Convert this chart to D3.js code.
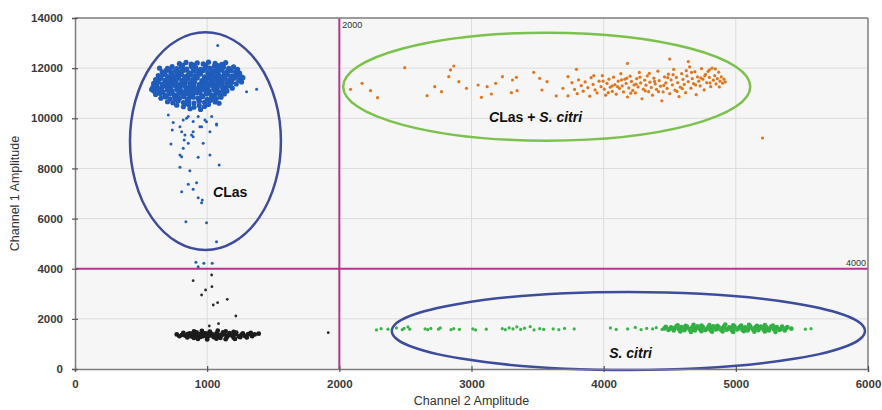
<!DOCTYPE html>
<html>
<head>
<meta charset="utf-8">
<script src="https://cdn.jsdelivr.net/npm/d3@7/dist/d3.min.js"></script>
<style>
  body { margin: 0; background: #ffffff; }
  svg text { font-family: "Liberation Sans", Arial, sans-serif; }
</style>
</head>
<body>
<svg id="chart" width="882" height="410"></svg>
<script>
// ---- Axis ticks ----
const xTickValues = [0, 1000, 2000, 3000, 4000, 5000, 6000];
const yTickValues = [0, 2000, 4000, 6000, 8000, 10000, 12000, 14000];
const xTitle = "Channel 2 Amplitude";
const yTitle = "Channel 1 Amplitude";

// ---- Thresholds (Channel 2, Channel 1) ----
const thresholdCh2 = [2000];
const thresholdCh1 = [4000];

// ---- Droplets: Channel 2 amplitude, Channel 1 amplitude ----
// CLas-positive droplets, main cluster
const clasCluster = [
  [790,12180],[840,12230],[880,12160],[925,12210],[970,12170],[1010,12240],[1060,12190],[1110,12150],[1140,12220],
  [700,11990],[735,12060],[770,11980],[805,12040],[845,11960],[880,12070],[915,12010],[950,11950],[985,12060],[1020,12000],[1055,12080],[1090,11970],[1125,12040],[1165,11990],[1200,12050],
  [660,11850],[690,11910],[725,11820],[760,11890],[795,11840],[830,11920],[865,11810],[900,11880],[935,11840],[970,11910],[1005,11820],[1040,11890],[1075,11850],[1110,11920],[1145,11830],[1180,11900],[1215,11860],[1245,11800],
  [630,11700],[665,11740],[700,11660],[735,11720],[770,11680],[805,11750],[840,11670],[875,11730],[910,11690],[945,11760],[980,11650],[1015,11720],[1050,11680],[1085,11750],[1120,11670],[1155,11730],[1190,11690],[1225,11750],[1255,11660],
  [610,11540],[645,11590],[680,11510],[715,11570],[750,11530],[785,11600],[820,11520],[855,11580],[890,11540],[925,11610],[960,11500],[995,11570],[1030,11530],[1065,11600],[1100,11510],[1135,11570],[1170,11540],[1205,11600],[1240,11520],
  [595,11390],[625,11440],[660,11360],[695,11420],[730,11380],[765,11450],[800,11370],[835,11430],[870,11390],[905,11460],[940,11350],[975,11420],[1010,11380],[1045,11450],[1080,11360],[1115,11420],[1150,11390],[1185,11440],[1220,11370],
  [590,11240],[620,11290],[655,11210],[690,11270],[725,11230],[760,11300],[795,11220],[830,11280],[865,11240],[900,11310],[935,11200],[970,11270],[1005,11230],[1040,11300],[1075,11210],[1110,11270],[1145,11240],[1175,11300],
  [595,11090],[630,11140],[665,11060],[700,11120],[735,11080],[770,11150],[805,11070],[840,11130],[875,11090],[910,11160],[945,11050],[980,11120],[1015,11080],[1050,11150],[1085,11060],[1120,11120],[1150,11090],
  [610,10950],[645,10990],[680,10910],[715,10970],[750,10930],[785,11000],[820,10920],[855,10980],[890,10940],[925,11010],[960,10900],[995,10970],[1030,10930],[1065,10990],[1100,10920],[1130,10970],
  [650,10800],[685,10850],[720,10770],[755,10830],[790,10790],[825,10860],[860,10780],[895,10840],[930,10800],[965,10860],[1000,10760],[1035,10820],[1070,10790],[1105,10840],
  [700,10660],[740,10620],[780,10690],[820,10630],[860,10680],[900,10610],[940,10670],[980,10640],[1020,10700],[1060,10650],
  [770,10520],[820,10460],[860,10540],[900,10440],[940,10510],[980,10470],[1010,10550],
  [640,12000],[1230,11950],[1270,11620],[1260,11450],[580,11150],[610,11330],[1190,11200],[870,10380],[950,10350],[1090,10600],
  [815,12110],[900,12120],[990,12110],[1080,12100],[720,11930],[810,11900],[895,11950],[985,11980],[1070,11930],[1160,11920],
  [680,11790],[770,11770],[860,11760],[950,11800],[1040,11780],[1130,11790],[1220,11700],[650,11620],[740,11640],[830,11610],
  [920,11650],[1010,11640],[1100,11620],[1190,11610],[630,11470],[720,11460],[810,11490],[900,11480],[990,11470],[1080,11490],
  [1170,11470],[605,11320],[700,11330],[790,11310],[880,11330],[970,11320],[1060,11330],[1150,11320],[610,11170],[700,11190],
  [790,11180],[880,11170],[970,11190],[1060,11180],[640,11020],[730,11030],[820,11020],[910,11040],[1000,11030],[1090,11010],
  [690,10880],[780,10890],[870,10900],[960,10880],[1050,10890],[760,10730],[850,10740],[940,10720],[1030,10740],[840,10590]
];
// CLas-positive droplets trailing below the cluster
const clasTail = [
  [1080,12900],[1298,11060],[1374,11160],
  [706,10130],[819,9930],[857,10070],[894,9870],[932,10070],[983,9930],[1034,10070],[1071,9770],
  [743,9830],[736,9530],[726,8975],[794,9665],[807,9467],[832,9333],[826,9134],[894,9467],[894,9267],[844,10000],
  [945,9665],[970,9003],[995,9866],[1021,9467],[1071,9733],[882,9333],[958,9665],
  [819,8803],[857,9003],[794,8536],[807,8470],[932,8443],[1021,8536],[794,8046],[869,7911],[1091,8137],
  [920,7431],[857,7367],[894,7168],[807,7072],[932,6833],[963,6741],[958,6633],[839,5876],[995,5836],[1071,5077],
  [915,4256],[975,4216],[1038,4216],[932,4082]
];
// Double-positive droplets (CLas + S. citri)
const bothPoints = [
  [2085,11157],[2172,11396],[2236,11101],[2289,10822],[2495,12018],[2664,10902],[2722,11261],[2773,11061],[2828,11660],[2841,11927],
  [2866,12086],[2904,11460],[2962,11196],[3050,11328],[3075,10837],[3118,11261],[3150,10969],[3183,11396],[3234,11660],[3310,11528],
  [3302,11022],[3345,11101],[3340,11633],[3471,11835],[3516,11595],[3533,11129],[3571,11460],[3641,10890],[3692,11196],[3730,11660],
  [3730,10890],[3794,11954],[5202,9214],
  [3760,11420],[3780,11150],[3800,10980],[3810,11530],[3830,11300],[3845,11080],[3860,11450],[3880,11220],[3895,10880],[3905,11620],
  [3920,11350],[3935,11130],[3950,11010],[3965,11480],[3980,11260],[3990,11700],[4005,11160],[4015,10920],[4025,11390],[4040,11560],
  [4050,11240],[4065,11070],[4075,11640],[4085,11340],[4095,10960],[4110,11480],[4120,11190],[4130,11780],[4140,11290],[4150,11050],
  [4160,11560],[4170,11390],[4180,10850],[4190,11210],[4200,11680],[4210,11470],[4220,11110],[4230,11330],[4240,11010],[4250,11580],
  [4260,11250],[4270,11830],[4280,11410],[4290,10780],[4300,11160],[4310,11520],[4320,11320],[4330,11690],[4340,11060],[4350,11440],
  [4360,11230],[4370,10920],[4380,11600],[4390,11370],[4400,11150],[4410,11880],[4420,11500],[4430,11280],[4440,10700],[4450,11050],
  [4460,11650],[4470,11410],[4480,11190],[4490,11760],[4500,10980],[4510,11530],[4520,11330],[4530,11950],[4540,11120],[4550,11630],
  [4560,11420],[4570,10860],[4580,11240],[4590,11780],[4600,11550],[4610,11350],[4620,11020],[4630,11690],[4640,11460],[4650,12050],
  [4660,11200],[4670,11580],[4680,11380],[4690,11860],[4700,10940],[4710,11650],[4720,11480],[4730,11290],[4740,11980],[4750,11560],
  [4760,11130],[4770,11750],[4780,11420],[4790,11870],[4800,11630],[4810,11260],[4820,12000],[4830,11520],[4840,11700],[4850,11370],
  [4860,11580],[4870,11840],[4880,11480],[4890,11650],[4900,11400],[4910,11560],[4920,11450],
  [4035,11020],[4105,11260],[4175,11600],[4245,11360],[4315,11090],[4385,11470],[4455,11310],[4525,11740],[4595,11180],[4665,11830],
  [4735,11610],[4805,11410],[4875,11250],[3925,11700],[3995,11480],[4065,11290],[4135,11530],[4205,11000],[4275,11640],[4345,11790],
  [4415,11060],[4485,11620],[4555,11070],[4625,11900],[4695,11330],[4765,11690],[4845,11970],
  [4180,12190],[4500,12360],[4640,12260],[4800,11930]
];
// S. citri-positive droplets, scattered part
const citriScatter = [
  [2281,1560],[2316,1610],[2368,1590],[2432,1640],[2476,1570],[2490,1620],[2519,1680],[2533,1590],[2649,1600],[2669,1570],
  [2692,1620],[2750,1590],[2764,1640],[2845,1570],[2866,1610],[2909,1580],[3010,1600],[3031,1560],[3112,1590],[3233,1610],
  [3256,1570],[3285,1640],[3314,1600],[3343,1680],[3372,1580],[3401,1630],[3444,1690],[3473,1560],[3516,1610],[3546,1580],
  [3618,1600],[3661,1570],[3704,1620],[3777,1600],[4051,1640],[4095,1580],[4181,1600],[4239,1660],[4283,1570],[4326,1620],
  [4370,1600],[4398,1650],[4442,1580],[5526,1590],[5569,1610]
];
// S. citri-positive droplets, main band
const citriCluster = [
  [4560,1740],[4620,1720],[4680,1760],[4740,1730],[4800,1750],[4860,1720],[4920,1770],[4980,1740],[5040,1730],[5100,1760],[5160,1720],[5220,1750],[5280,1730],
  [4470,1680],[4510,1660],[4550,1700],[4590,1670],[4630,1690],[4670,1660],[4710,1700],[4750,1680],[4790,1660],[4830,1700],[4870,1670],[4910,1690],
  [4950,1660],[4990,1700],[5030,1680],[5070,1660],[5110,1700],[5150,1670],[5190,1690],[5230,1660],[5270,1700],[5310,1670],[5350,1690],[5390,1670],
  [4460,1620],[4500,1600],[4540,1640],[4580,1610],[4620,1630],[4660,1600],[4700,1640],[4740,1620],[4780,1600],[4820,1640],[4860,1610],[4900,1630],
  [4940,1600],[4980,1640],[5020,1620],[5060,1600],[5100,1640],[5140,1610],[5180,1630],[5220,1600],[5260,1640],[5300,1620],[5340,1600],[5380,1630],[5420,1610],
  [4490,1560],[4530,1540],[4570,1580],[4610,1550],[4650,1570],[4690,1540],[4730,1580],[4770,1560],[4810,1540],[4850,1580],[4890,1550],[4930,1570],
  [4970,1540],[5010,1580],[5050,1560],[5090,1540],[5130,1580],[5170,1550],[5210,1570],[5250,1540],[5290,1580],[5330,1560],[5370,1540],
  [4580,1500],[4660,1480],[4740,1510],[4820,1490],[4900,1500],[4980,1480],[5060,1510],[5140,1490],[5220,1500],[5300,1480]
];
// Negative droplets, main cluster
const negativeCluster = [
  [900,1500],[960,1520],[1020,1490],[1080,1530],[1140,1500],[1200,1480],
  [820,1440],[870,1420],[920,1460],[970,1430],[1020,1450],[1070,1420],[1120,1460],[1170,1430],[1220,1450],[1270,1420],[1330,1440],
  [770,1380],[810,1360],[855,1400],[900,1370],[945,1390],[990,1360],[1035,1400],[1080,1370],[1125,1390],[1170,1360],[1215,1400],[1260,1370],[1310,1390],[1360,1380],[1390,1410],
  [790,1310],[835,1330],[880,1300],[925,1340],[970,1310],[1015,1330],[1060,1300],[1105,1340],[1150,1310],[1195,1330],[1240,1300],[1285,1320],[1340,1310],
  [850,1260],[900,1240],[950,1280],[1000,1250],[1050,1270],[1100,1240],[1150,1280],[1200,1250],[1250,1270],[1300,1260],
  [930,1200],[1000,1180],[1070,1210],[1140,1190],[1210,1200],
  [960,1340],[1040,1350],[1110,1360],[990,1420],[1060,1330],[1130,1410],[1000,1300],[1180,1350],[930,1380],[1090,1280]
];
// Negative droplets outside the cluster
const negativeScatter = [
  [1034,3750],[894,3522],[1036,3283],[988,3151],[958,2952],[1152,2780],[1079,2645],[1046,2553],[1217,2114],[1016,1715],[1086,1807],[1916,1448]
];

// ---- Cluster gates: centre and half-widths in amplitude units ----
const gateNames = ["clas", "both", "citri"];
const gateCx = [987, 3569, 4187];
const gateCy = [9087, 11261, 1516];
const gateRx = [571, 1540, 1790];
const gateRy = [4340, 2154, 1556];

// ---- Cluster labels, anchored at left baseline ----
const labelX = [1045, 3133, 4042];
const labelY = [6870, 9864, 419];

// ---------------------------------------------------------------
const W = 882, H = 410;
const margin = { left: 75, right: 14, top: 18, bottom: 41 };
const x = d3.scaleLinear().domain([0, 6000]).range([margin.left, W - margin.right]);
const y = d3.scaleLinear().domain([0, 14000]).range([H - margin.bottom, margin.top]);

const svg = d3.select("#chart");

// plot background
svg.append("rect")
  .attr("x", x(0)).attr("y", y(14000))
  .attr("width", x(6000) - x(0)).attr("height", y(0) - y(14000))
  .attr("fill", "#f6f6f6");

// grid
const grid = svg.append("g").attr("stroke", "#dcdcdc").attr("stroke-width", 1);
grid.selectAll("line.vx").data(xTickValues.filter(v => v > 0 && v < 6000)).join("line")
  .attr("x1", d => x(d)).attr("x2", d => x(d))
  .attr("y1", y(0)).attr("y2", y(14000));
grid.selectAll("line.hy").data(yTickValues.filter(v => v > 0 && v < 14000)).join("line")
  .attr("x1", x(0)).attr("x2", x(6000))
  .attr("y1", d => y(d)).attr("y2", d => y(d));

// threshold lines
const thr = svg.append("g").attr("stroke", "#b8358f").attr("stroke-width", 2);
thr.selectAll("line.t2").data(thresholdCh2).join("line")
  .attr("x1", d => x(d)).attr("x2", d => x(d))
  .attr("y1", y(0)).attr("y2", y(14000));
thr.selectAll("line.t1").data(thresholdCh1).join("line")
  .attr("x1", x(0)).attr("x2", x(6000))
  .attr("y1", d => y(d)).attr("y2", d => y(d));

svg.selectAll("text.t2").data(thresholdCh2).join("text")
  .attr("x", d => x(d) + 3).attr("y", y(14000) + 10)
  .attr("font-size", 9).attr("fill", "#333").text(d => d);
svg.selectAll("text.t1").data(thresholdCh1).join("text")
  .attr("x", x(6000) - 2).attr("y", d => y(d) - 3)
  .attr("text-anchor", "end")
  .attr("font-size", 9).attr("fill", "#333").text(d => d);

// droplets
function drawPoints(data, color, r) {
  svg.append("g").selectAll("circle").data(data).join("circle")
    .attr("cx", d => x(d[0])).attr("cy", d => y(d[1]))
    .attr("r", r).attr("fill", color);
}
drawPoints(negativeCluster, "#1c1c1c", 2.4);
drawPoints(negativeScatter, "#2a2a2a", 1.4);
drawPoints(citriScatter, "#3bb44a", 1.6);
drawPoints(citriCluster, "#33b044", 2.3);
drawPoints(bothPoints, "#e2761f", 1.6);
drawPoints(clasTail, "#2460b8", 1.5);
drawPoints(clasCluster, "#1f5cbc", 2.6);

// gates
const gateColor = { clas: "#3e4c9c", both: "#7cc14b", citri: "#3e4c9c" };
svg.append("g").selectAll("ellipse").data(gateNames).join("ellipse")
  .attr("cx", (d, i) => x(gateCx[i]))
  .attr("cy", (d, i) => y(gateCy[i]))
  .attr("rx", (d, i) => x(gateRx[i]) - x(0))
  .attr("ry", (d, i) => y(0) - y(gateRy[i]))
  .attr("fill", "none")
  .attr("stroke", d => gateColor[d])
  .attr("stroke-width", 2.5);

// cluster labels
const labels = svg.append("g")
  .attr("font-family", "Lato, 'Open Sans', sans-serif")
  .attr("font-weight", "bold").attr("font-size", 14).attr("fill", "#111");
const parts = [
  [["C", true], ["Las", false]],
  [["C", true], ["Las + ", false], ["S. citri", true]],
  [["S. citri", true]]
];
parts.forEach((p, i) => {
  const t = labels.append("text").attr("x", x(labelX[i])).attr("y", y(labelY[i]));
  p.forEach(([s, it]) => t.append("tspan").attr("font-style", it ? "italic" : "normal").text(s));
});

// frame
svg.append("line").attr("x1", x(0)).attr("x2", x(6000)).attr("y1", y(14000)).attr("y2", y(14000))
  .attr("stroke", "#7d7d7d").attr("stroke-width", 1.5);
svg.append("line").attr("x1", x(6000)).attr("x2", x(6000)).attr("y1", y(14000)).attr("y2", y(0))
  .attr("stroke", "#7d7d7d").attr("stroke-width", 1.5);

// axes
const xAxis = svg.append("g").attr("transform", `translate(0,${y(0)})`)
  .call(d3.axisBottom(x).tickValues(xTickValues).tickSize(3).tickPadding(8).tickFormat(d3.format("d")));
const yAxis = svg.append("g").attr("transform", `translate(${x(0)},0)`)
  .call(d3.axisLeft(y).tickValues(yTickValues).tickSize(3).tickPadding(9).tickFormat(d3.format("d")));
[xAxis, yAxis].forEach(a => {
  a.select(".domain").attr("stroke", "#7d7d7d").attr("stroke-width", 1.5);
  a.selectAll(".tick line").attr("stroke", "#555").attr("stroke-width", 1.2);
  a.selectAll("text").attr("font-family", "'Liberation Sans', Arial, sans-serif")
    .attr("font-size", 11.5).attr("font-weight", "bold").attr("fill", "#3a3a3a");
});
// ticks straddle the axis line
xAxis.selectAll(".tick line").attr("y1", -3);
yAxis.selectAll(".tick line").attr("x1", 3);

// axis titles
svg.append("text")
  .attr("x", (x(0) + x(6000)) / 2).attr("y", 405)
  .attr("text-anchor", "middle").attr("font-size", 12.5).attr("fill", "#333")
  .text(xTitle);
svg.append("text")
  .attr("transform", `translate(19,${(y(0) + y(14000)) / 2}) rotate(-90)`)
  .attr("text-anchor", "middle").attr("font-size", 12.5).attr("fill", "#333")
  .text(yTitle);
</script>
</body>
</html>
